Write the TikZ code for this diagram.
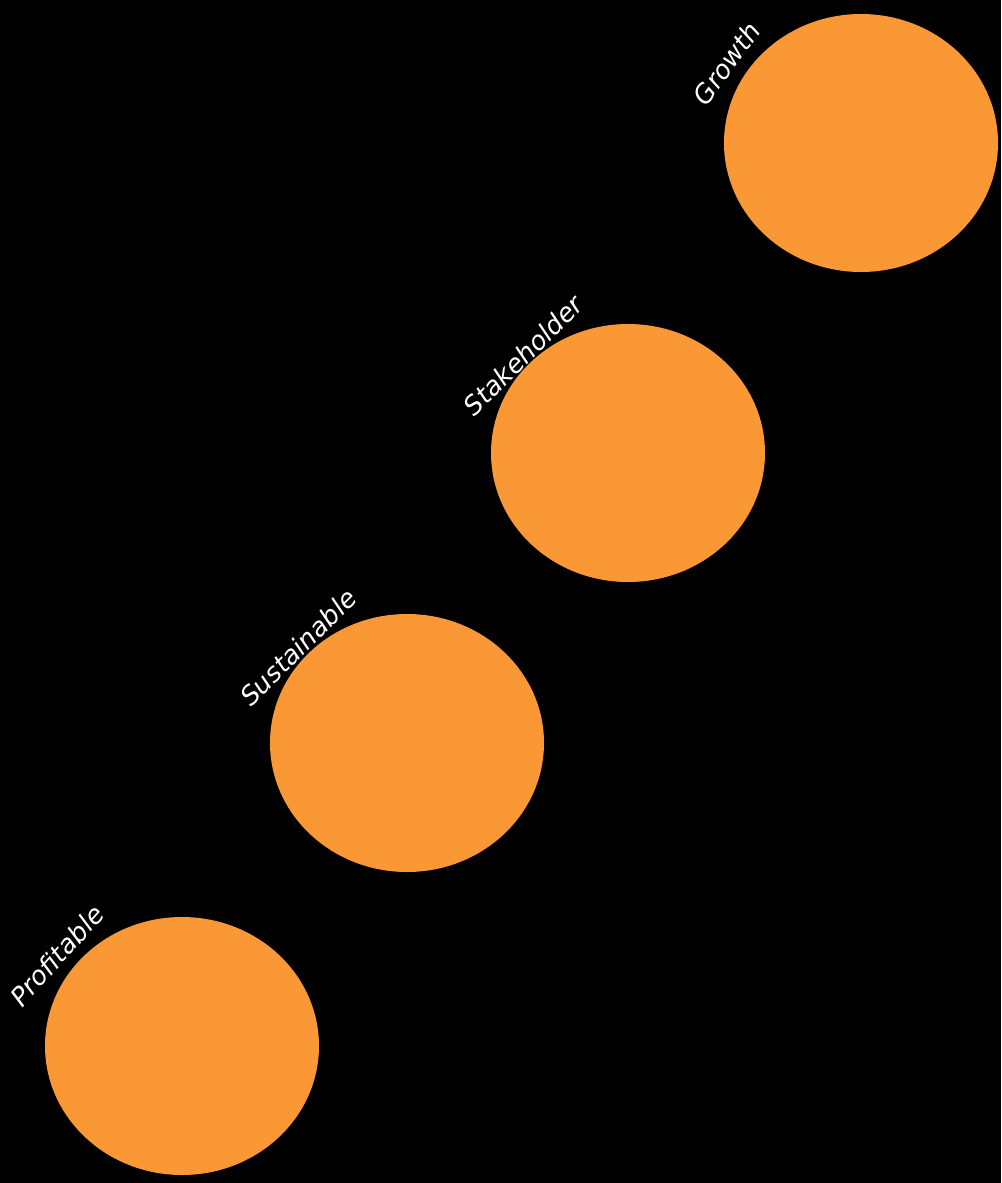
\documentclass[tikz,border=0pt]{standalone}
\usepackage{fontspec}
\setmainfont{DejaVu Sans}
\usetikzlibrary{shapes.geometric}
\definecolor{disk}{RGB}{249,152,53}
\tikzset{
  disc/.style={ellipse, fill=disk, draw=none, minimum width=274pt, minimum height=258pt, inner sep=0pt},
  lbl/.style={text=white, font=\fontsize{26}{26}\selectfont\itshape, inner sep=0pt, anchor=base}
}
\begin{document}
\begin{tikzpicture}[x=1pt,y=-1pt]
\fill[black] (0,0) rectangle (1001,1183);
\useasboundingbox (0,0) rectangle (1001,1183);
\node[disc] (growth) at (861,143) {};
\node[disc] (stake) at (628,453) {};
\node[disc] (sust) at (407,743) {};
\node[disc] (prof) at (182,1046) {};
\node[lbl, rotate=54] (tgrowth) at (734,69) {Growth};
\node[lbl, rotate=45] (tstake) at (530,362) {Stakeholder};
\node[lbl, rotate=45] (tsust) at (305,654) {Sustainable};
\node[lbl, rotate=48] (tprof) at (64,962) {Profitable};
\end{tikzpicture}
\end{document}
